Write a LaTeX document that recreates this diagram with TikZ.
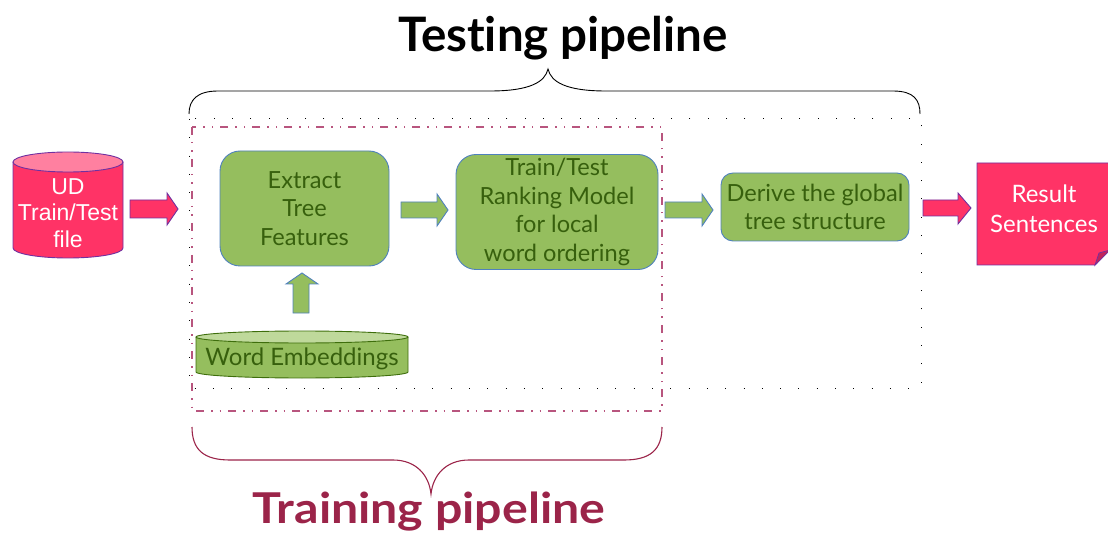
\documentclass[tikz,border=0pt]{standalone}
\usepackage{fontspec}
\usepackage{graphicx}
\setmainfont{Lato}[Ligatures={NoCommon,NoRare,NoContextual}]
\newfontfamily\arialf{Liberation Sans}
\definecolor{pinkfill}{HTML}{FF3366}
\definecolor{pinktop}{HTML}{FF80A0}
\definecolor{pinkdark}{HTML}{C0245A}
\definecolor{purpleb}{HTML}{7030A0}
\definecolor{greenfill}{HTML}{95BE5E}
\definecolor{greentop}{HTML}{BFD99B}
\definecolor{blueb}{HTML}{4F81BD}
\definecolor{greentext}{HTML}{37600D}
\definecolor{greendark}{HTML}{3E6E0C}
\definecolor{crimson}{HTML}{9B2449}
\definecolor{trainbox}{HTML}{B8557E}
\tikzset{
  greenbox/.style={draw=blueb, fill=greenfill, line width=0.9pt, rounded corners=20pt,
    text=greentext, font=\fontsize{23.6}{28.6}\selectfont, align=center, inner sep=0pt},
  greenarrow/.style={draw=blueb, fill=greenfill, line width=0.9pt},
  pinkarrow/.style={draw=purpleb, fill=pinkfill, line width=0.9pt},
  whitetext/.style={text=white, align=center, inner sep=0pt},
}
\begin{document}
\begin{tikzpicture}[x=1pt,y=-1pt]
\useasboundingbox (0,0) rectangle (1108,537);
% testing region (dotted)
\draw[black, line width=1pt, dash pattern=on 1pt off 17.3pt] (189,119) rectangle (921,388);
% training region (dash dot dot)
\draw[trainbox, line width=1.3pt, dash pattern=on 8pt off 7pt on 1.5pt off 7pt on 1.5pt off 7pt] (192,127) rectangle (662,411);
% top brace
\draw[black, line width=0.9pt] (189,114) .. controls (189,100) and (197,91) .. (218,91) -- (490,91)
  .. controls (530,91) and (545,82) .. (548,69) .. controls (551,82) and (566,91) .. (606,91)
  -- (893,91) .. controls (914,91) and (920,100) .. (920,114);
% bottom brace
\draw[crimson, line width=1.1pt] (192,427) .. controls (192,450) and (204,460) .. (230,460) -- (393,460)
  .. controls (416,460) and (429,475) .. (431,494) .. controls (433,475) and (446,460) .. (469,460)
  -- (624,460) .. controls (650,460) and (662,450) .. (662,427);
% titles
\node[font=\fontsize{47.5}{50}\bfseries\selectfont, text=black, anchor=base, inner sep=0pt] (testtitle) at (563,52) {Testing pipeline};
\node[font=\fontsize{42.5}{50}\bfseries\selectfont, text=crimson, anchor=base, inner sep=0pt] (traintitle) at (429,523) {\scalebox{1.136}[1]{Training pipeline}};
% UD cylinder
\fill[pinkfill] (13,162) -- (13,248) arc[start angle=180, end angle=360, x radius=55pt, y radius=10pt] -- (123,162) -- cycle;
\fill[pinktop] (68,162) ellipse[x radius=55pt, y radius=10pt];
\draw[purpleb, line width=0.9pt] (13,162) -- (13,248) arc[start angle=180, end angle=360, x radius=55pt, y radius=10pt] -- (123,162);
\draw[purpleb, line width=0.9pt] (68,162) ellipse[x radius=55pt, y radius=10pt];
\node[whitetext, font=\arialf\fontsize{23}{26.5}\selectfont] (ud) at (68,213) {UD\\Train/Test\\file};
% arrow UD -> pipeline
\draw[pinkarrow] (130,200) -- (167,200) -- (167,193) -- (178,209) -- (167,225) -- (167,218) -- (130,218) -- cycle;
% Extract
\node[greenbox, minimum width=169pt, minimum height=115pt] (extract) at (304.5,208.5) {Extract\\Tree\\Features};
% arrow extract -> train
\draw[greenarrow] (401,202) -- (437,202) -- (437,194) -- (448,210) -- (437,226) -- (437,218) -- (401,218) -- cycle;
% Train/Test
\node[greenbox, minimum width=202pt, minimum height=115pt] (rank) at (557,212) {Train/Test\\Ranking Model\\for local\\word ordering};
% arrow train -> derive
\draw[greenarrow] (665,202) -- (702,202) -- (702,194) -- (713,210) -- (702,226) -- (702,218) -- (665,218) -- cycle;
% Derive
\node[greenbox, rounded corners=12pt, minimum width=188pt, minimum height=68pt] (derive) at (815,207) {Derive the global\\tree structure};
% arrow -> result
\draw[pinkarrow] (923,200) -- (958,200) -- (958,193) -- (971,208) -- (958,224) -- (958,216) -- (923,216) -- cycle;
% Result note
\draw[purpleb, fill=pinkfill, line width=0.9pt] (977,163) -- (1112,163) -- (1112,247) -- (1095,265) -- (977,265) -- cycle;
\draw[purpleb, fill=pinkdark, line width=0.7pt] (1095,265) -- (1099,253) -- (1110,250) -- cycle;
\node[whitetext, font=\fontsize{24}{30}\selectfont] (result) at (1044,209) {Result\\Sentences};
% Word embeddings cylinder
\fill[greenfill] (196,337) -- (196,372) arc[start angle=180, end angle=360, x radius=106pt, y radius=6pt] -- (408,337) -- cycle;
\fill[greentop] (302,337) ellipse[x radius=106pt, y radius=6pt];
\draw[greendark, line width=0.9pt] (196,337) -- (196,372) arc[start angle=180, end angle=360, x radius=106pt, y radius=6pt] -- (408,337);
\draw[greendark, line width=0.9pt] (302,337) ellipse[x radius=106pt, y radius=6pt];
\node[text=greentext, font=\fontsize{24}{28}\selectfont, inner sep=0pt] (emb) at (302,359) {Word Embeddings};
% up arrow
\draw[greenarrow] (293,313) -- (293,284) -- (286,284) -- (302,273) -- (318,284) -- (309,284) -- (309,313) -- cycle;
\end{tikzpicture}
\end{document}
